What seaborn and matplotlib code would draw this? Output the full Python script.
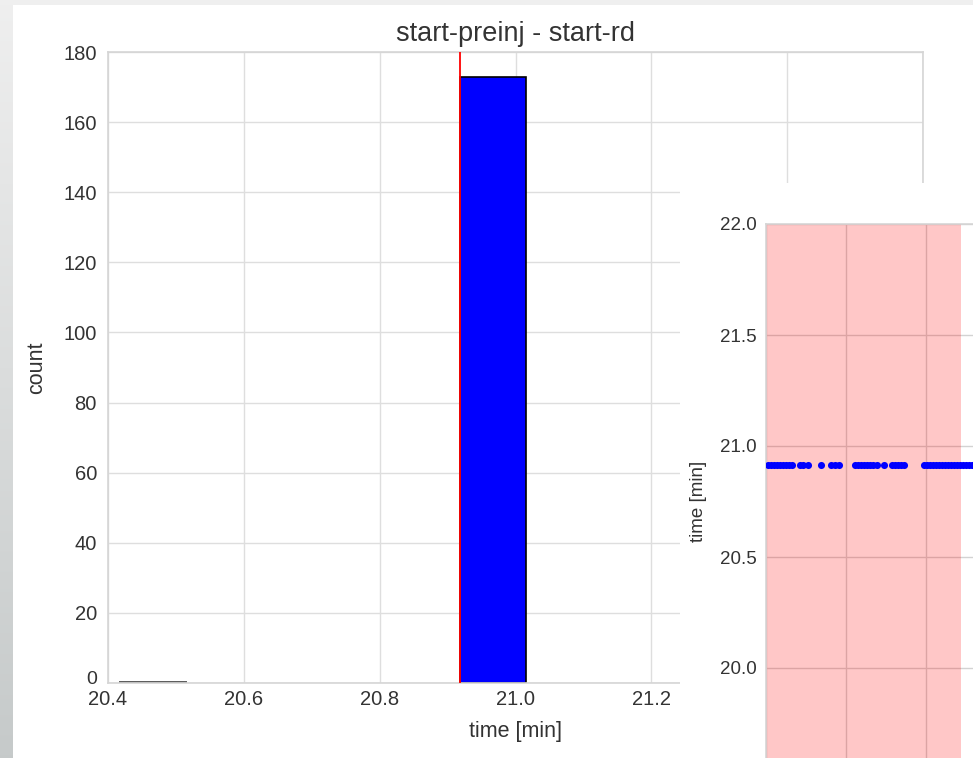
import numpy as np
import matplotlib
matplotlib.use("Agg")
import matplotlib.pyplot as plt
import matplotlib.transforms as mtransforms
import seaborn as sns
from matplotlib.patches import Rectangle

# ---- data ----
bar_edges = [20.918, 21.016]
bar_counts = [173]
small_edges = [20.418, 20.515]
small_counts = [0.4]
red_line_x = 20.918
main_xticks = [20.4, 20.6, 20.8, 21.0, 21.2, 21.4, 21.6]
main_yticks = [0, 20, 40, 60, 80, 100, 120, 140, 160, 180]

inset_x = [0.5, 1.3, 2.0, 2.8, 3.5, 4.3, 5.0, 5.8, 6.5,
           8.5, 9.3, 10.5,
           13.8, 16.3, 17.3, 18.3,
           22.3, 23.0, 23.8, 24.5, 25.3, 26.0, 26.8, 27.8, 29.5,
           31.5, 32.3, 33.0, 33.8, 34.5,
           39.5, 40.3, 41.0, 41.8, 42.5, 43.3, 44.0, 44.8, 45.5, 46.3,
           47.0, 47.8, 48.5, 49.3, 50.0, 50.8, 51.5, 52.3]
inset_y = [20.915] * len(inset_x)
inset_yticks = [20.0, 20.5, 21.0, 21.5, 22.0]
inset_xticks = [0, 20, 40, 60, 80, 100]
pink_span = (0, 48.75)

sns.set_theme(style="whitegrid")
plt.rcParams['font.family'] = ['Liberation Sans', 'DejaVu Sans']
plt.rcParams['text.color'] = '#333333'
plt.rcParams['axes.labelcolor'] = '#333333'
plt.rcParams['xtick.color'] = '#333333'
plt.rcParams['ytick.color'] = '#333333'

W, H = 973, 758
fig = plt.figure(figsize=(W / 100, H / 100), dpi=100)
fig.patch.set_facecolor('white')

def fx(px):
    return px / W

def fy(py):
    return 1 - py / H

# screenshot frame: top band and left gradient band
fig.patches.append(Rectangle((0, fy(5)), 1, 5 / H, transform=fig.transFigure,
                             facecolor='#efefef', edgecolor='none', zorder=0))
bg = fig.add_axes([0, 0, fx(13), 1])
grad = np.linspace(0, 1, 256)[:, None]
top_c = np.array([0.937, 0.937, 0.937])
bot_c = np.array([0.776, 0.792, 0.792])
img = top_c[None, None, :] * (1 - grad[:, :, None]) + bot_c[None, None, :] * grad[:, :, None]
bg.imshow(img, aspect='auto', extent=[0, 1, 0, 1])
bg.axis('off')

# ---- main axes ----
ax = fig.add_axes([fx(108), fy(683), fx(923) - fx(108), fy(52) - fy(683)])
ax.set_facecolor('white')
sns.histplot(x=[np.mean(bar_edges)], weights=bar_counts, bins=bar_edges, ax=ax,
             color='blue', edgecolor='black', linewidth=1.2, alpha=1.0)
sns.histplot(x=[np.mean(small_edges)], weights=small_counts, bins=small_edges, ax=ax,
             color='#5a5a5a', edgecolor='#5a5a5a', linewidth=1.4, alpha=1.0)
ax.axvline(red_line_x, color='red', linewidth=1.3, zorder=5)
ax.set_xlim(20.4, 21.6)
ax.set_ylim(0, 180)
ax.set_xticks(main_xticks)
ax.set_xticklabels([f"{v:.1f}" for v in main_xticks])
ax.set_yticks(main_yticks)
ax.tick_params(axis='both', labelsize=14.5, length=0)
ax.tick_params(axis='x', pad=5)
ax.tick_params(axis='y', pad=8)
ax.grid(True, color='#dedede', linewidth=1)
for s in ax.spines.values():
    s.set_color('#d5d5d5')
    s.set_linewidth(1.2)
ax.set_xlabel('time [min]', fontsize=15.5, labelpad=9)
ax.set_ylabel('count', fontsize=15.5, labelpad=12)
ax.set_title('start-preinj - start-rd', fontsize=19.5, pad=8)

# nudge the "0" label up a little so it does not collide with "20.4"
zero_lbl = ax.get_yticklabels()[0]
zero_lbl.set_transform(zero_lbl.get_transform() +
                       mtransforms.ScaledTranslation(0, 4 / 72, fig.dpi_scale_trans))
zero_lbl.set_fontsize(14)

# ---- overlapping inset figure ----
wbg = fig.add_axes([fx(680), 0, 1 - fx(680), fy(183)], zorder=5)
wbg.set_facecolor('white')
wbg.axis('off')
wbg.add_patch(Rectangle((0, 0), 1, 1, transform=wbg.transAxes, facecolor='white',
                        edgecolor='none'))

ix = fig.add_axes([fx(766), fy(779), 400 / W, fy(224) - fy(779)], zorder=6)
ix.set_facecolor('white')
ix.set_axisbelow(True)
ix.grid(True, color='#d3d3d3', linewidth=1)
ix.axvspan(pink_span[0], pink_span[1], color='red', alpha=0.22, linewidth=0, zorder=1)
sns.scatterplot(x=inset_x, y=inset_y, ax=ix, color='blue', s=26, linewidth=0, zorder=3)
ix.set_xlim(0, 100)
ix.set_ylim(19.5, 22.0)
ix.set_xticks(inset_xticks)
ix.set_xticklabels([])
ix.set_yticks(inset_yticks)
ix.set_yticklabels([f"{v:.1f}" for v in inset_yticks])
ix.tick_params(axis='both', labelsize=13.5, length=0)
ix.tick_params(axis='y', pad=7)
for s in ix.spines.values():
    s.set_color('#d5d5d5')
    s.set_linewidth(1.2)
ix.set_ylabel('time [min]', fontsize=13.5, labelpad=9)

fig.savefig('out.png', dpi=100)
